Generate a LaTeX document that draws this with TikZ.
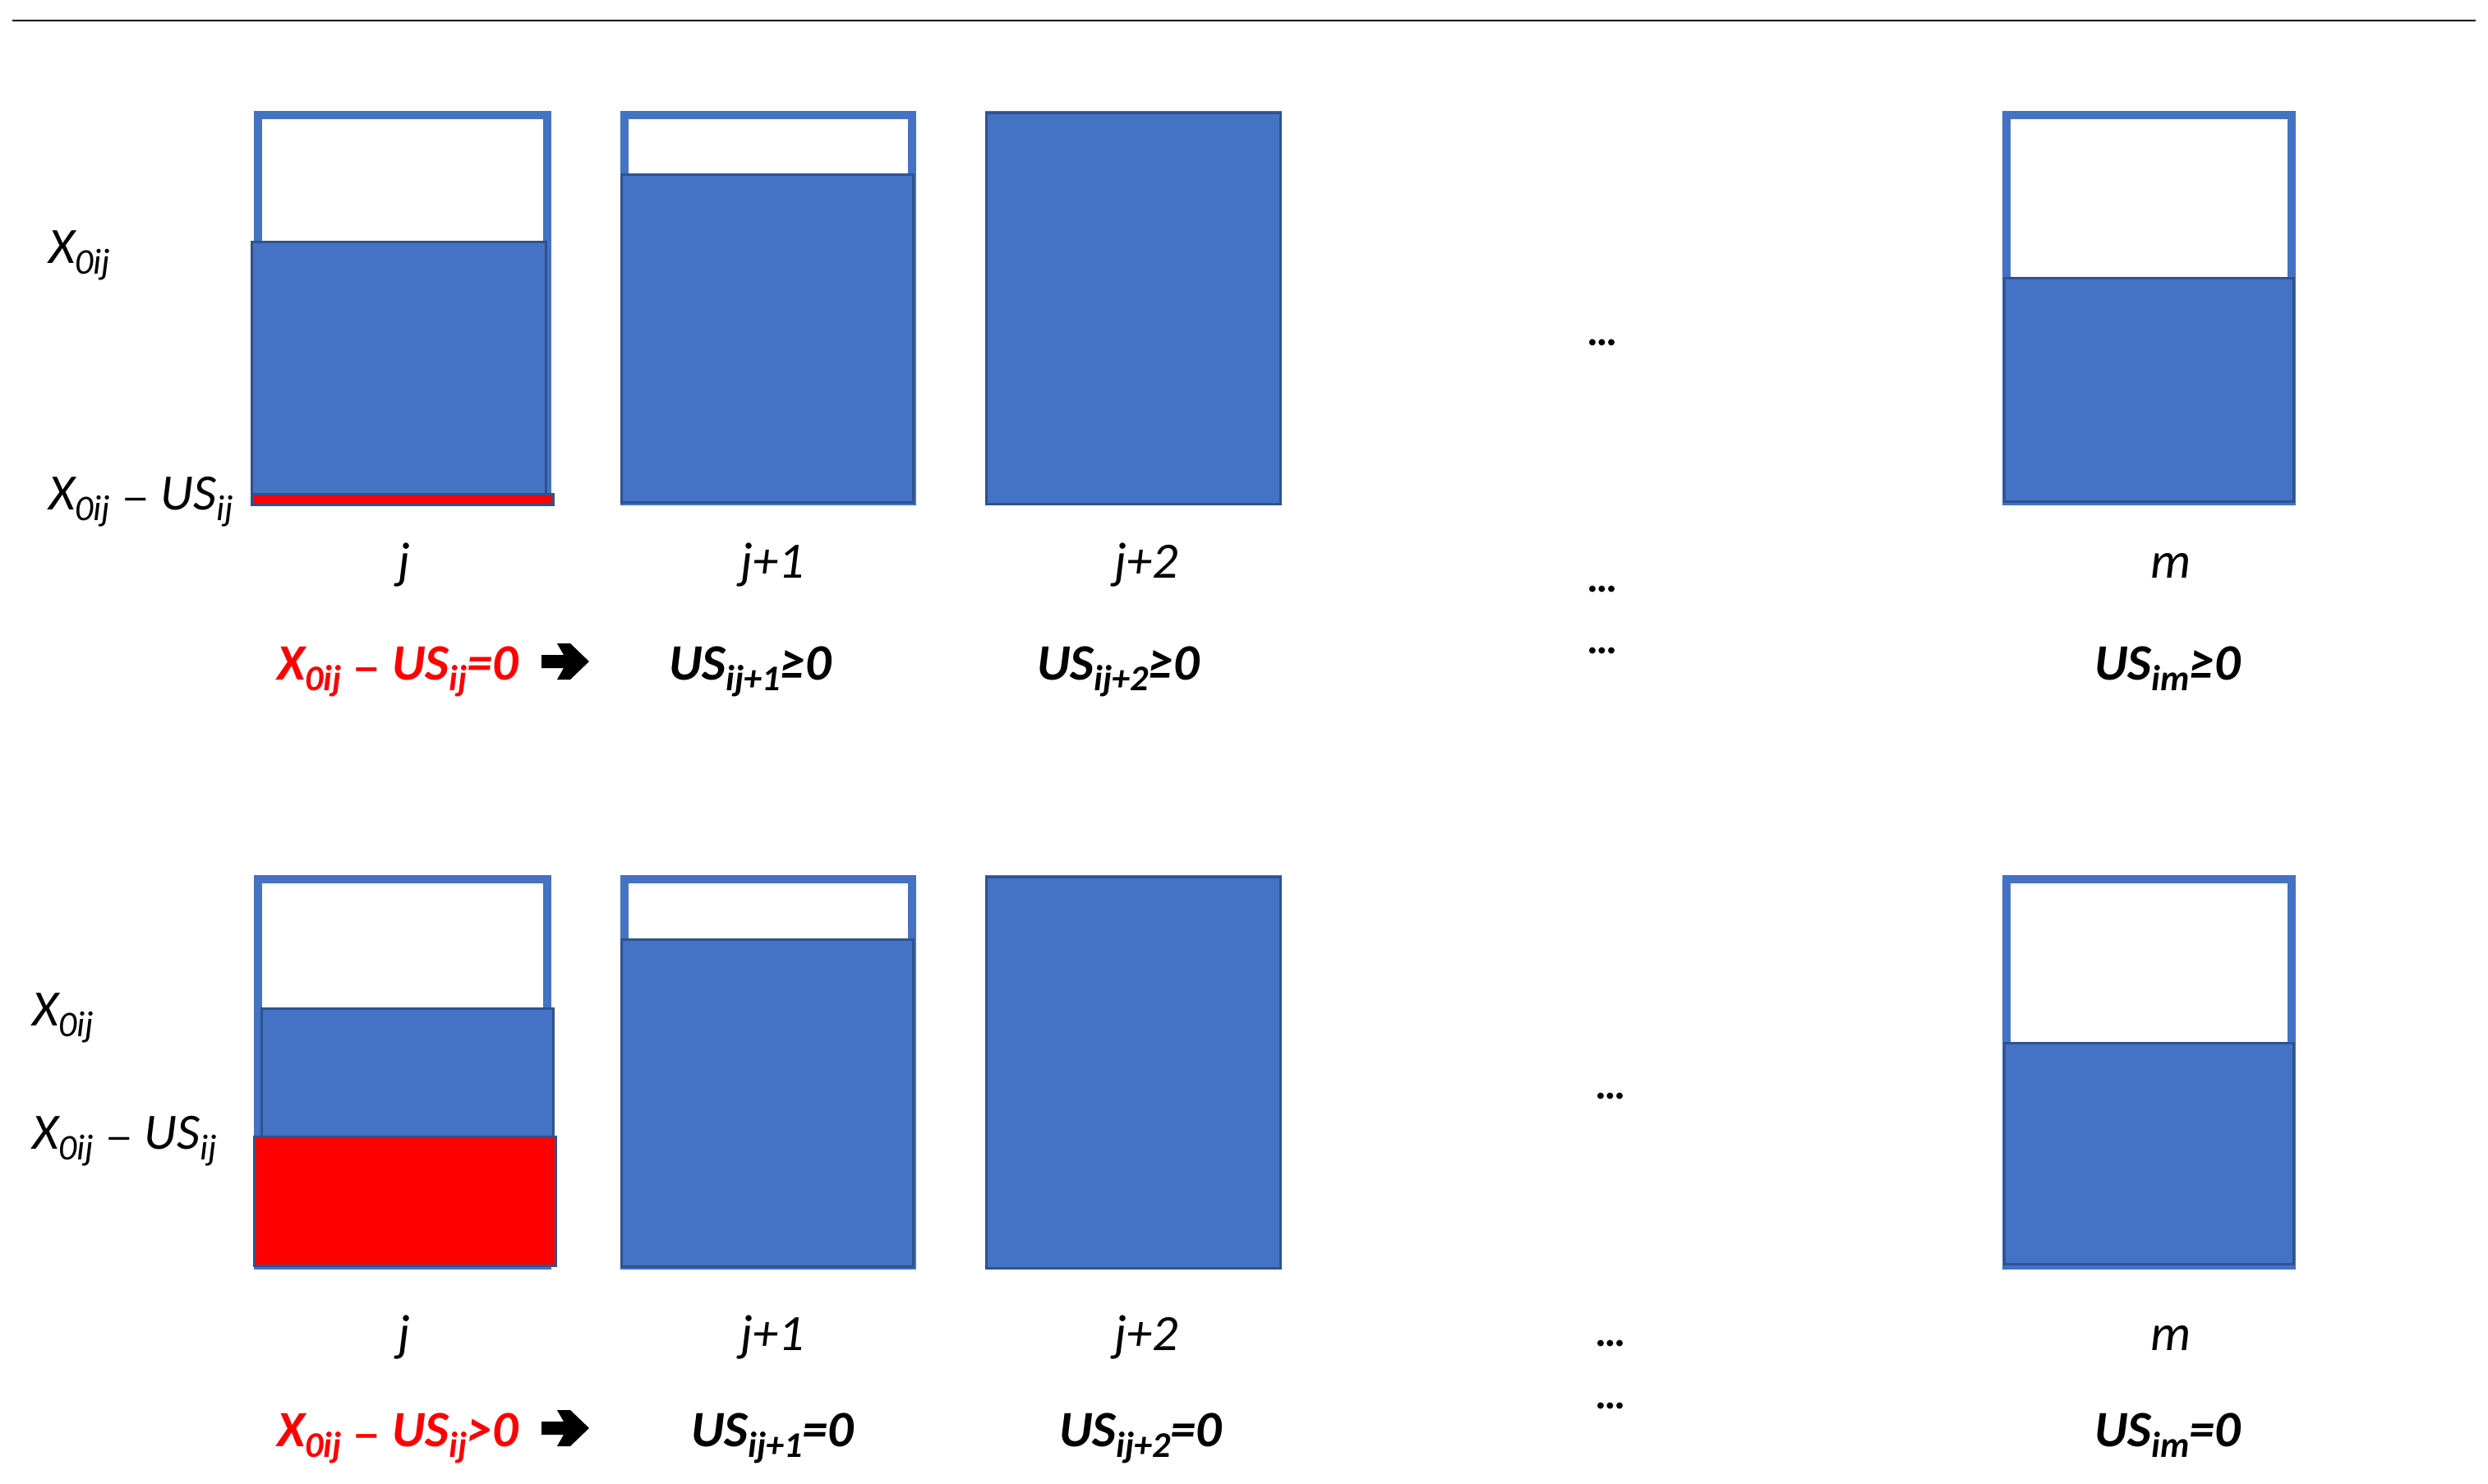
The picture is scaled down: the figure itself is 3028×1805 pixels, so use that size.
\documentclass[tikz,border=0pt]{standalone}
\usepackage{fontspec}
\setmainfont{Carlito}
\newfontfamily\dvfont{DejaVu Sans}
\usepackage{graphicx}
\definecolor{ofblue}{HTML}{4472C4}
\definecolor{ofdark}{HTML}{2F528F}
\definecolor{ofred}{HTML}{FF0000}
\newcommand\sbx[1]{\raisebox{-0.22em}{\fontsize{44}{50}\selectfont #1}}
\newcommand\mns{{\dvfont\fontsize{40}{44}\selectfont −}}
\tikzset{
  frame/.style={draw=ofblue, line width=10.5pt, fill=white},
  level/.style={fill=ofblue, draw=ofdark, line width=3pt},
  redlevel/.style={fill=ofred, draw=ofdark, line width=3pt},
  lab/.style={font=\fontsize{62}{74}\selectfont\itshape, inner sep=0pt},
  cond/.style={font=\fontsize{62}{74}\selectfont\bfseries\itshape, inner sep=0pt},
  dotsl/.style={font=\fontsize{52}{60}\selectfont\bfseries, inner sep=0pt},
  heavyarrow/.style={fill=black}
}
\begin{document}
\begin{tikzpicture}[x=1pt,y=-1pt]
\useasboundingbox (0,0) rectangle (3028,1805);
\fill[white] (0,0) rectangle (3028,1805);
\draw[line width=2.5pt] (15,25) -- (3013,25);

% ---------- top row ----------
\draw[frame] (314,140) rectangle (666,610);
\draw[frame] (760,140) rectangle (1110,610);
\draw[frame] (1204,140) rectangle (1555,610);
\draw[frame] (2442,140) rectangle (2789,610);

\draw[level] (306,294) rectangle (664,602);
\draw[redlevel] (306,601) rectangle (673,614);
\draw[level] (756,212) rectangle (1111,611);
\draw[level] (1200,137) rectangle (1558,613);
\draw[level] (2439,338) rectangle (2791,610);

\node[lab, anchor=base west] (xa1) at (59,320) {X\sbx{0ij}};
\node[lab, anchor=base west] (xb1) at (59,620) {X\sbx{0ij} \mns{} US\sbx{ij}};

\node[lab, anchor=base] (c1a) at (492,703) {j};
\node[lab, anchor=base] (c1b) at (940,703) {j+1};
\node[lab, anchor=base] (c1c) at (1395,703) {j+2};
\node[lab, anchor=base] (c1m) at (2642,703) {m};

\node[dotsl, anchor=base] (d1a) at (1950,420) {…};
\node[dotsl, anchor=base] (d1b) at (1950,720) {…};
\node[dotsl, anchor=base] (d1c) at (1950,795) {…};

\node[cond, anchor=base, text=ofred] (r1) at (484,827) {X\sbx{0ij} \mns{} US\sbx{ij}=0};
\coordinate (ar1) at (688,805);
\fill[heavyarrow, shift={(ar1)}] (-29,-8) -- (-2,-8) -- (-10,-22) -- (6,-22) -- (29,0) -- (6,22) -- (-10,22) -- (-2,8) -- (-29,8) -- cycle;
\node[cond, anchor=base] (u1b) at (913,827) {US\sbx{ij+1}≥0};
\node[cond, anchor=base] (u1c) at (1361,827) {US\sbx{ij+2}≥0};
\node[cond, anchor=base] (u1m) at (2638,827) {US\sbx{im}≥0};

% ---------- bottom row ----------
\draw[frame] (314,1070) rectangle (666,1540);
\draw[frame] (760,1070) rectangle (1110,1540);
\draw[frame] (1204,1070) rectangle (1555,1540);
\draw[frame] (2442,1070) rectangle (2789,1540);

\draw[level] (318,1227) rectangle (673,1383);
\draw[redlevel] (309,1383) rectangle (676,1540);
\draw[level] (756,1143) rectangle (1111,1541);
\draw[level] (1200,1067) rectangle (1558,1543);
\draw[level] (2439,1269) rectangle (2791,1538);

\node[lab, anchor=base west] (xa2) at (39,1248) {X\sbx{0ij}};
\node[lab, anchor=base west] (xb2) at (39,1398) {X\sbx{0ij} \mns{} US\sbx{ij}};

\node[lab, anchor=base] (c2a) at (492,1643) {j};
\node[lab, anchor=base] (c2b) at (940,1643) {j+1};
\node[lab, anchor=base] (c2c) at (1395,1643) {j+2};
\node[lab, anchor=base] (c2m) at (2642,1643) {m};

\node[dotsl, anchor=base] (d2a) at (1960,1337) {…};
\node[dotsl, anchor=base] (d2b) at (1960,1638) {…};
\node[dotsl, anchor=base] (d2c) at (1960,1714) {…};

\node[cond, anchor=base, text=ofred] (r2) at (484,1760) {X\sbx{0ij} \mns{} US\sbx{ij}>0};
\coordinate (ar2) at (688,1738);
\fill[heavyarrow, shift={(ar2)}] (-29,-8) -- (-2,-8) -- (-10,-22) -- (6,-22) -- (29,0) -- (6,22) -- (-10,22) -- (-2,8) -- (-29,8) -- cycle;
\node[cond, anchor=base] (u2b) at (940,1760) {US\sbx{ij+1}=0};
\node[cond, anchor=base] (u2c) at (1388,1760) {US\sbx{ij+2}=0};
\node[cond, anchor=base] (u2m) at (2638,1760) {US\sbx{im}=0};
\end{tikzpicture}
\end{document}
